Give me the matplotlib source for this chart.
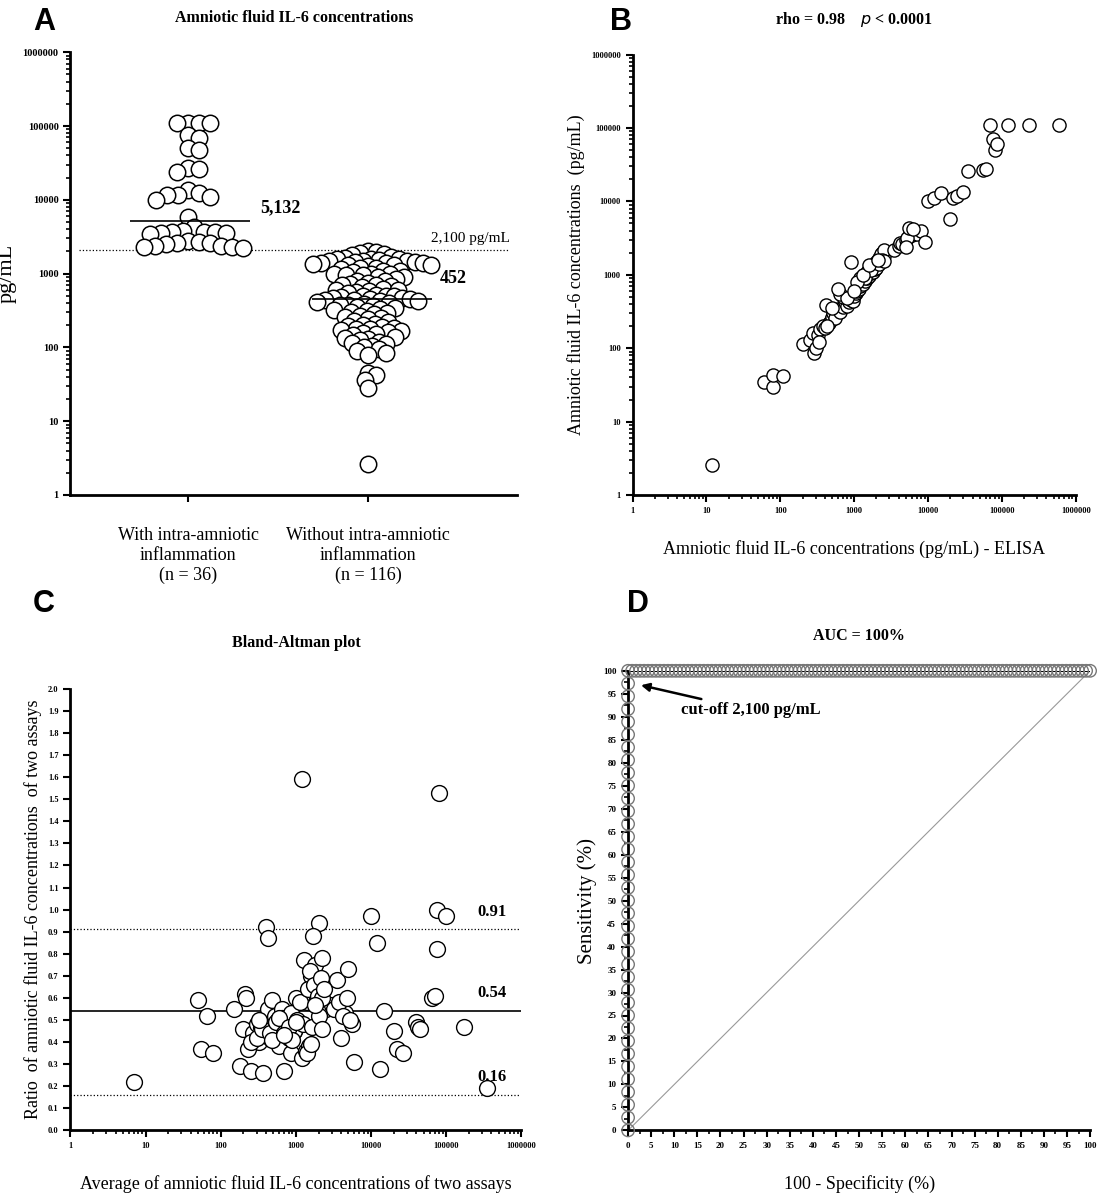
import numpy as np
import matplotlib.pyplot as plt
from matplotlib.ticker import LogLocator, NullFormatter, FixedLocator, MultipleLocator

plt.rcParams['font.family'] = ['Liberation Serif', 'DejaVu Serif']

# ---- data ----
with_iai = [110000, 110000, 110000, 110000, 68000, 75000, 48000, 50000, 26000, 27000, 24000,
            11000, 11500, 12500, 10000, 13500, 11500, 5800, 4300, 3700, 3600, 3400, 2700, 2800,
            3700, 2600, 3800, 3500, 3700, 2400, 2200, 2300, 2500, 2300, 2400, 2600]
without_iai = [2000, 1950, 1900, 1850, 1800, 1700, 1650, 1600, 1600, 1550, 1500, 1500, 1450, 1450,
               1400, 1400, 1400, 1350, 1300, 1300, 1250, 1200, 1200, 1150, 1100, 1100, 1050, 1000,
               1000, 950, 950, 900, 900, 850, 800, 800, 750, 720, 700, 680, 650, 620, 600, 580,
               560, 540, 520, 500, 490, 480, 470, 460, 455, 450, 445, 440, 430, 420, 410, 400,
               390, 380, 370, 360, 350, 340, 330, 320, 310, 300, 290, 280, 270, 260, 250, 240,
               230, 220, 210, 200, 195, 190, 185, 180, 175, 170, 165, 160, 155, 150, 145, 140,
               135, 130, 125, 120, 115, 110, 105, 100, 95, 90, 85, 80, 600, 700, 1000, 1300,
               1500, 1600, 45, 42, 36, 28, 2.6, 500]
medians = [5132, 452]
group_labels = ['With intra-amniotic\ninflammation\n(n = 36)', 'Without intra-amniotic\ninflammation\n(n = 116)']

elisa = [12, 60, 80, 80, 110, 200, 250, 280, 290, 300, 320, 350, 380, 400, 420, 450, 480, 500,
         520, 550, 600, 650, 700, 750, 800, 850, 900, 950, 1000, 1050, 1100, 1150, 1200, 1300,
         1400, 1500, 1600, 1700, 1800, 1900, 2000, 2100, 2200, 2300, 2400, 2500, 1200, 1500,
         1800, 2000, 2200, 2400, 1600, 1900, 2300, 2500, 3500, 4000, 4200, 4500, 5000, 5500,
         5800, 6000, 6500, 7000, 8000, 9000, 10000, 12000, 15000, 20000, 22000, 25000, 30000,
         35000, 55000, 60000, 70000, 75000, 80000, 85000, 120000, 230000, 600000, 900, 500,
         700, 1400, 2000, 2400, 5200, 5600, 330, 430, 650, 1100, 1700, 2200, 2500, 800, 1300,
         600, 1000, 1600, 2100, 5000, 6200]
other = [2.6, 35, 30, 43, 42, 115, 130, 160, 85, 100, 150, 180, 200, 190, 390, 220, 240, 270,
         300, 260, 340, 310, 360, 420, 380, 430, 450, 440, 520, 560, 600, 640, 700, 760, 820,
         900, 950, 1050, 1100, 1200, 1300, 1400, 1500, 1600, 1700, 1800, 900, 1100, 1300, 1500,
         1700, 2000, 1200, 1400, 1900, 2200, 2200, 2500, 2700, 2600, 3000, 3400, 3800, 3500,
         3900, 3600, 4000, 2800, 10000, 11000, 13000, 5800, 11000, 12000, 13500, 26000, 27000,
         28000, 110000, 70000, 50000, 60000, 110000, 110000, 110000, 1500, 350, 500, 900, 1250,
         1600, 3200, 4300, 120, 200, 550, 800, 1150, 1400, 1550, 480, 1000, 650, 600, 1350,
         1600, 2400, 4200]

ba_avg = [7, 50, 55, 65, 80, 150, 180, 200, 210, 220, 230, 250, 270, 300, 320, 340, 360, 380,
          400, 420, 450, 480, 500, 520, 550, 580, 600, 650, 700, 750, 800, 850, 900, 950, 1000,
          1100, 1200, 1300, 1400, 1500, 1600, 1700, 1800, 1900, 2000, 2100, 2200, 2300, 2500,
          3000, 3500, 4000, 4500, 5000, 5500, 6000, 10000, 12000, 13000, 15000, 20000, 22000,
          27000, 40000, 42000, 45000, 65000, 70000, 75000, 75000, 80000, 100000, 170000, 350000,
          400, 420, 1200, 2000, 1700, 250, 300, 350, 450, 550, 650, 750, 850, 950, 1050, 1150,
          1250, 1350, 1450, 1550, 1650, 1750, 1850, 1950, 2050, 2150, 2250, 2400, 600, 700, 800,
          900, 1000, 3200, 3800, 4200, 4800, 5200, 1500, 1800, 2200, 320, 480, 700, 1400, 1600]
ba_ratio = [0.22, 0.59, 0.37, 0.52, 0.35, 0.55, 0.29, 0.46, 0.62, 0.60, 0.37, 0.27, 0.44,
            0.48, 0.40, 0.47, 0.26, 0.45, 0.50, 0.55, 0.42, 0.59, 0.48, 0.52, 0.45, 0.50, 0.38,
            0.55, 0.27, 0.48, 0.42, 0.35, 0.52, 0.45, 0.60, 0.48, 0.33, 0.77, 0.58, 0.62, 0.70,
            0.65, 0.75, 0.68, 0.56, 0.62, 0.78, 0.66, 0.55, 0.57, 0.68, 0.42, 0.53, 0.73, 0.48,
            0.31, 0.97, 0.85, 0.28, 0.54, 0.45, 0.37, 0.35, 0.49, 0.47, 0.46, 0.60, 0.61, 1.00,
            0.82, 1.53, 0.97, 0.47, 0.19, 0.92, 0.87, 1.59, 0.94, 0.88, 0.40, 0.42, 0.46, 0.44,
            0.49, 0.51, 0.46, 0.53, 0.45, 0.50, 0.58, 0.48, 0.36, 0.64, 0.72, 0.47, 0.66, 0.58,
            0.61, 0.52, 0.69, 0.60, 0.64, 0.51, 0.44, 0.47, 0.41, 0.49, 0.55, 0.58, 0.52, 0.60,
            0.50, 0.38, 0.57, 0.46, 0.50, 0.41, 0.43, 0.35, 0.39]
ba_lines = [0.91, 0.54, 0.16]

fig = plt.figure(figsize=(11, 12), dpi=100)


def style(ax):
    for s in ['top', 'right']:
        ax.spines[s].set_visible(False)
    for s in ['left', 'bottom']:
        ax.spines[s].set_linewidth(2)
    ax.tick_params(width=1.5, length=5, labelsize=7.5)
    ax.tick_params(which='minor', width=1.2, length=3)
    for lab in ax.get_xticklabels() + ax.get_yticklabels():
        lab.set_fontweight('bold')


def swarm(vals, center, step, px_per_dec):
    placed = []
    xs = []
    for v in vals:
        y = np.log10(v) * px_per_dec
        for k in range(300):
            off = ((k + 1) // 2) * (1 if k % 2 else -1) * 1.0
            ok = all((center + off - px) ** 2 + (y - py) ** 2 >= step ** 2 for px, py in placed)
            if ok:
                break
        placed.append((center + off, y))
        xs.append(center + off)
    return xs


# ---- A ----
axA = fig.add_axes([0.064, 0.5875, 0.406, 0.369])
axA.set_yscale('log')
axA.set_ylim(1, 1e6)
axA.set_xlim(0, 447)
centers = [118, 298]
for vals, c, st in [(with_iai, centers[0], 11), (without_iai, centers[1], 7.5)]:
    sv = sorted(vals, reverse=True)
    xs = swarm(sv, c, st, 74)
    axA.scatter(xs, sv, s=140, facecolor='white', edgecolor='black', linewidth=1.1, zorder=3)
axA.hlines(medians[0], 60, 180, color='black', lw=1.2, zorder=4)
axA.hlines(medians[1], 242, 362, color='black', lw=1.2, zorder=4)
axA.text(190, medians[0] * 1.5, '5,132', fontsize=13, fontweight='bold', va='center')
axA.text(370, medians[1] * 1.9, '452', fontsize=13, fontweight='bold', va='center')
axA.axhline(2100, xmin=0.02, xmax=0.98, color='black', ls=':', lw=0.9)
axA.text(400, 3000, '2,100 pg/mL', fontsize=11, ha='center', va='center')
axA.set_yticks([10 ** i for i in range(7)])
axA.set_yticklabels([str(10 ** i) for i in range(7)])
axA.yaxis.set_minor_locator(LogLocator(subs=np.arange(2, 10)))
axA.yaxis.set_minor_formatter(NullFormatter())
axA.set_xticks(centers)
axA.set_xticklabels(group_labels, fontsize=13)
axA.set_ylabel('pg/mL', fontsize=16)
axA.set_title('Amniotic fluid IL-6 concentrations', fontsize=11.5, fontweight='bold', pad=22)
style(axA)
for lab in axA.get_xticklabels():
    lab.set_fontweight('normal')
    lab.set_fontsize(13)
axA.tick_params(axis='x', pad=18)

# ---- B ----
axB = fig.add_axes([0.575, 0.5875, 0.403, 0.367])
axB.set_xscale('log')
axB.set_yscale('log')
axB.set_xlim(1, 1e6)
axB.set_ylim(1, 1e6)
axB.scatter(elisa, other, s=90, facecolor='white', edgecolor='black', linewidth=1.0, zorder=3)
for ax_ in [axB.xaxis, axB.yaxis]:
    ax_.set_major_locator(FixedLocator([10 ** i for i in range(7)]))
    ax_.set_minor_locator(LogLocator(subs=np.arange(2, 10)))
    ax_.set_minor_formatter(NullFormatter())
axB.set_xticklabels([str(10 ** i) for i in range(7)])
axB.set_yticklabels([str(10 ** i) for i in range(7)])
axB.set_xlabel('Amniotic fluid IL-6 concentrations (pg/mL) - ELISA', fontsize=13, labelpad=18)
axB.set_ylabel('Amniotic fluid IL-6 concentrations  (pg/mL)', fontsize=13)
axB.set_title('rho = 0.98    $\\it{p}$ < 0.0001', fontsize=11.5, fontweight='bold', pad=22)
style(axB)
axB.tick_params(labelsize=6)

# ---- C ----
axC = fig.add_axes([0.064, 0.058, 0.41, 0.368])
axC.set_xscale('log')
axC.set_xlim(1, 1e6)
axC.set_ylim(0, 2.0)
axC.scatter(ba_avg, ba_ratio, s=130, facecolor='white', edgecolor='black', linewidth=1.0, zorder=3)
for v, ls in zip(ba_lines, [':', '-', ':']):
    axC.axhline(v, color='black', ls=ls, lw=1.2 if ls == '-' else 0.9)
    axC.text(2.6e5, v + 0.045, f'{v:.2f}', fontsize=12, fontweight='bold', va='bottom')
axC.xaxis.set_major_locator(FixedLocator([10 ** i for i in range(7)]))
axC.xaxis.set_minor_locator(LogLocator(subs=np.arange(2, 10)))
axC.xaxis.set_minor_formatter(NullFormatter())
axC.set_xticklabels([str(10 ** i) for i in range(7)])
axC.yaxis.set_major_locator(MultipleLocator(0.1))
axC.yaxis.set_major_formatter(plt.FuncFormatter(lambda v, p: f'{v:.1f}'))
axC.set_xlabel('Average of amniotic fluid IL-6 concentrations of two assays', fontsize=13, labelpad=18)
axC.set_ylabel('Ratio  of amniotic fluid IL-6 concentrations  of two assays', fontsize=13)
axC.set_title('Bland-Altman plot', fontsize=11.5, fontweight='bold', pad=30)
style(axC)
axC.tick_params(labelsize=6)

# ---- D: ROC computed from panel A groups, one point per sample ----
allv = np.array(with_iai + without_iai)
is_pos = np.array([1] * len(with_iai) + [0] * len(without_iai))
order = np.argsort(-allv, kind='stable')
sens = np.concatenate([[0], 100 * np.cumsum(is_pos[order]) / len(with_iai)])
fpr = np.concatenate([[0], 100 * np.cumsum(1 - is_pos[order]) / len(without_iai)])
axD = fig.add_axes([0.571, 0.058, 0.42, 0.383])
axD.set_xlim(0, 100)
axD.set_ylim(0, 100)
axD.plot([0, 100], [0, 100], color='#999999', lw=0.8)
axD.plot(fpr, sens, color='black', lw=1.5, zorder=2)
axD.scatter(fpr, sens, s=80, facecolor='none', edgecolor='#777777', linewidth=1.0, zorder=3, clip_on=False)
axD.annotate('cut-off 2,100 pg/mL', xy=(2.2, 97), xytext=(11.5, 90.5), fontsize=12, fontweight='bold',
             arrowprops=dict(arrowstyle='-|>', color='black', lw=1.8))
axD.xaxis.set_major_locator(MultipleLocator(5))
axD.yaxis.set_major_locator(MultipleLocator(5))
axD.xaxis.set_minor_locator(MultipleLocator(2.5))
axD.yaxis.set_minor_locator(MultipleLocator(2.5))
axD.set_xlabel('100 - Specificity (%)', fontsize=13, labelpad=18)
axD.set_ylabel('Sensitivity (%)', fontsize=15)
axD.set_title('AUC = 100%', fontsize=11.5, fontweight='bold', pad=22)
style(axD)
axD.tick_params(labelsize=6.5)

for x, y, s in [(0.005, 0.975, 'A'), (0.53, 0.975, 'B'), (0.005, 0.49, 'C'), (0.545, 0.49, 'D')]:
    fig.text(x + 0.025, y, s, fontsize=22, fontweight='bold', family=['Liberation Sans', 'DejaVu Sans'])

fig.savefig('out.png', dpi=100)
